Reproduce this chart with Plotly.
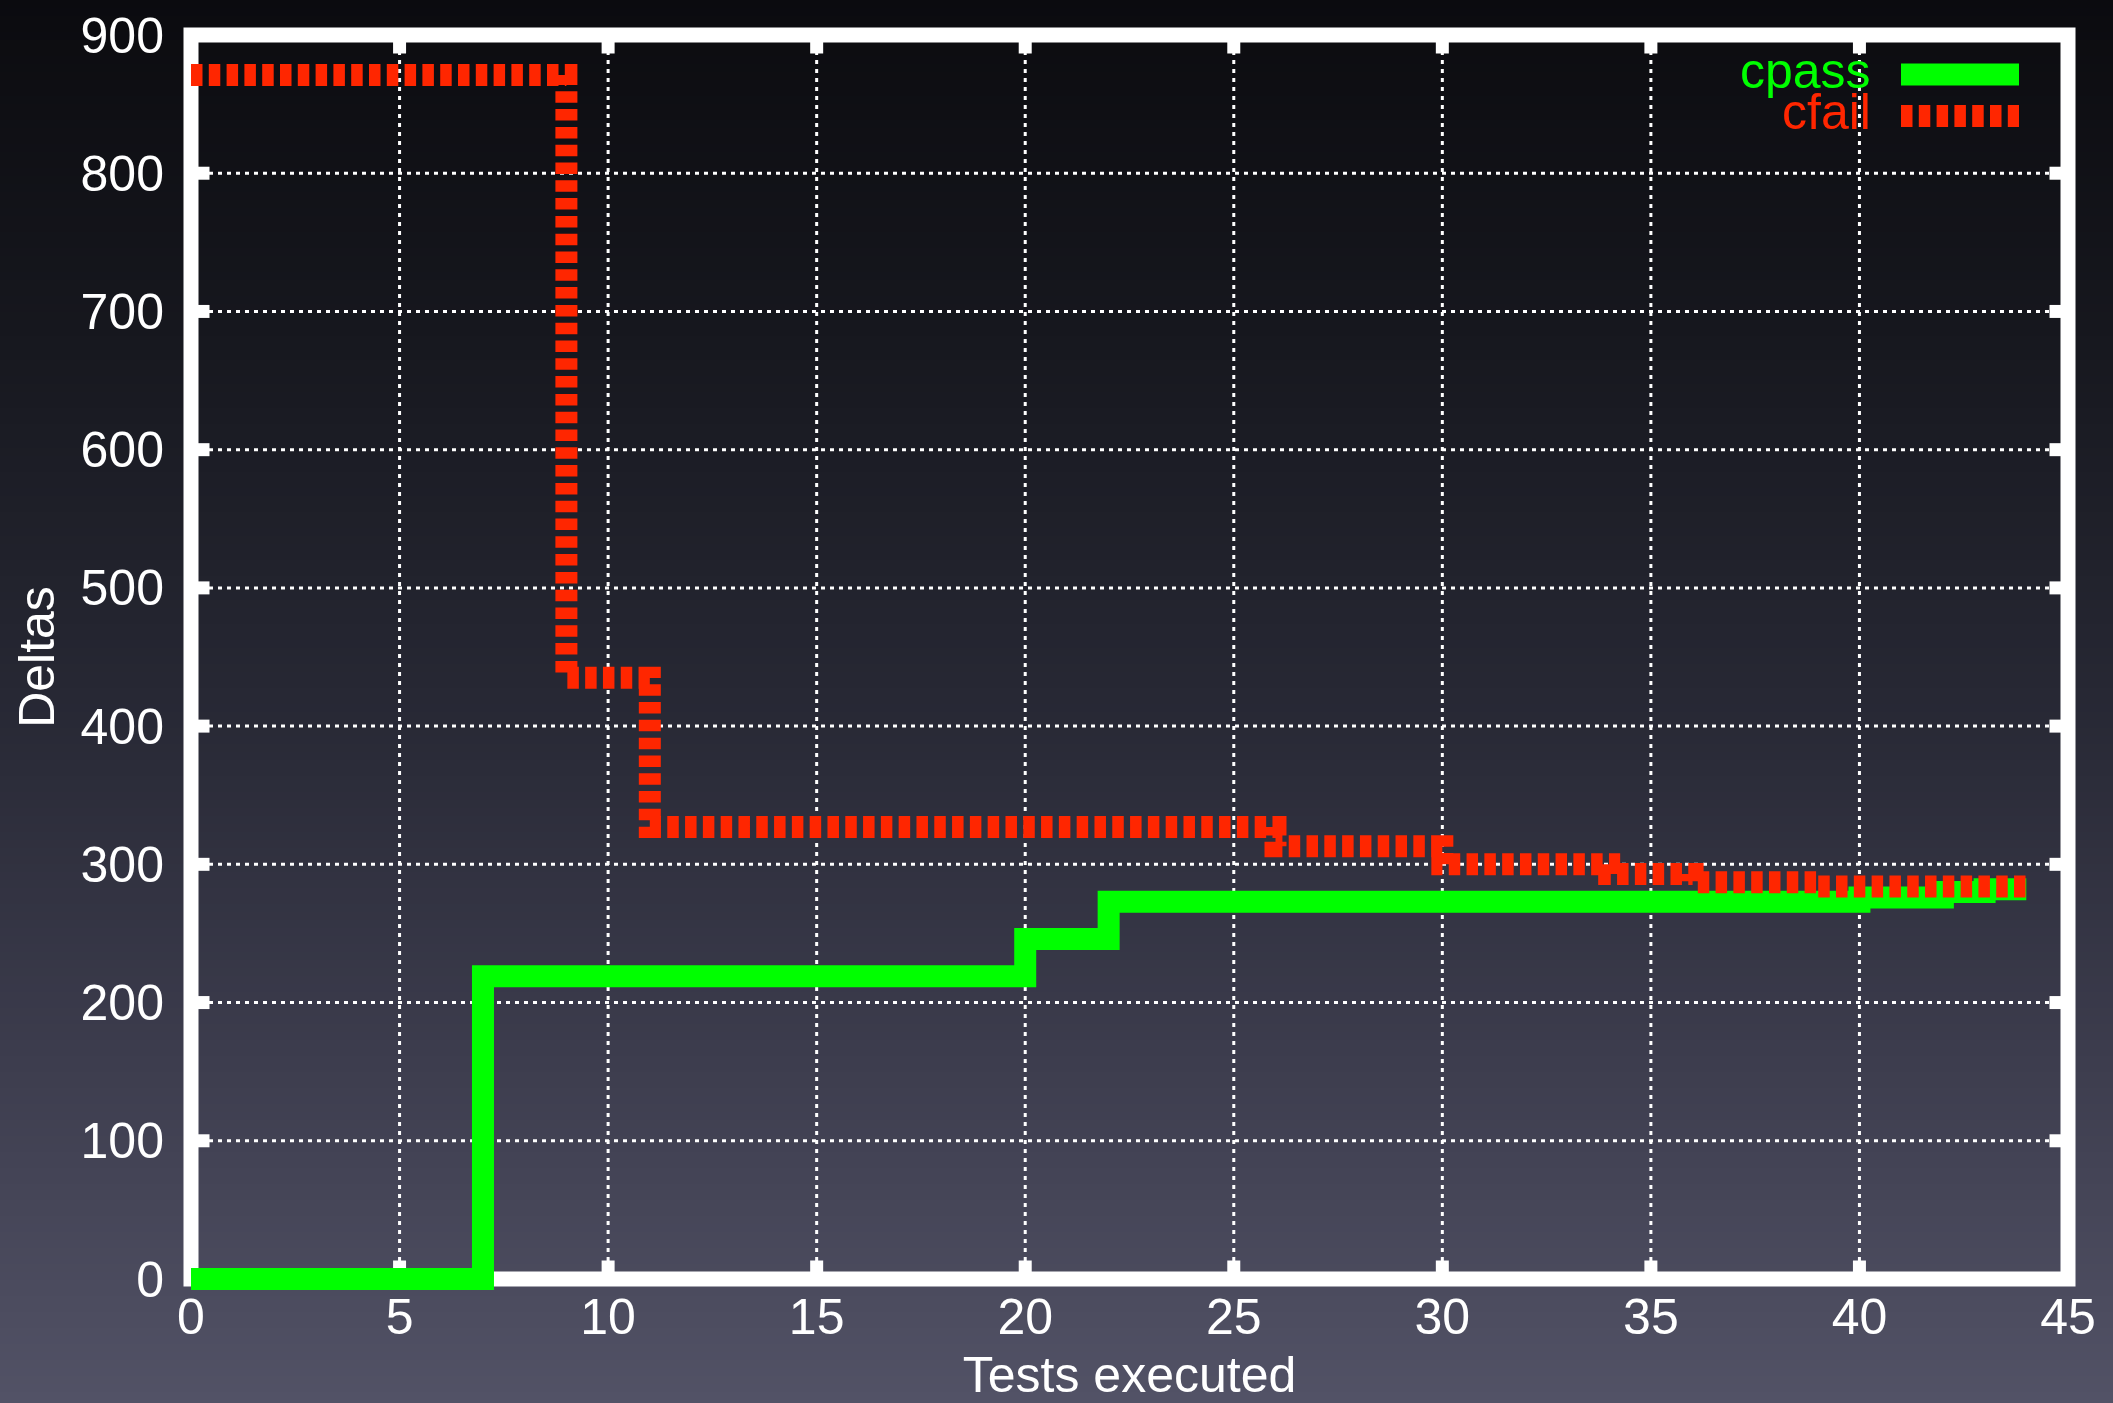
import plotly.graph_objects as go

# Step data: number of deltas remaining after each executed test
tests_pass = [0, 7, 20, 22, 40, 42, 43, 44]
cpass = [0, 219, 246, 273, 276, 280, 282, 282]

tests_fail = [0, 9, 11, 26, 30, 34, 36, 39, 44]
cfail = [871, 435, 327, 313, 300, 293, 287, 284, 284]

x_ticks = list(range(0, 46, 5))
y_ticks = list(range(0, 901, 100))

X_MAX, Y_MAX = 45, 900

W, H = 2113, 1403
# frame position (px) of the 0..45 x 0..900 box
FL, FR, FT, FB = 191, 2068, 35, 1279
PAD = 20  # extra room so the thick lines are not clipped at the frame
ML, MR, MT, MB = FL - PAD, W - FR - PAD, FT - PAD, H - FB - PAD
PW, PH = W - ML - MR, H - MT - MB
UX = X_MAX / (FR - FL)   # data units per px
UY = Y_MAX / (FB - FT)

GREEN = "#00ff00"
RED = "#ff2600"
FONT = "Liberation Sans, Arial, Helvetica, sans-serif"
DASH = "11.5px,6.3px"


def px_to_paper(px, py):
    return (px - ML) / PW, (H - MB - py) / PH


# vertical background gradient (dark top -> slate bottom)
stops = [(0, (11, 11, 15)), (350, (23, 24, 31)), (700, (39, 40, 52)),
         (1050, (60, 60, 77)), (1403, (82, 82, 102))]


def bg_color(py):
    for (y0, c0), (y1, c1) in zip(stops[:-1], stops[1:]):
        if y0 <= py <= y1:
            t = (py - y0) / (y1 - y0)
            return "rgb(%d,%d,%d)" % tuple(round(a + (b - a) * t) for a, b in zip(c0, c1))
    return "rgb(%d,%d,%d)" % stops[-1][1]


shapes = []
band = 8
for py in range(0, H, band):
    x0, y_top = px_to_paper(0, py)
    x1, y_bot = px_to_paper(W, py + band + 1)
    shapes.append(dict(type="rect", xref="paper", yref="paper", layer="below",
                       x0=x0, x1=x1, y0=y_bot, y1=y_top,
                       fillcolor=bg_color(py + band / 2), line=dict(width=0)))

# dotted grid
grid_line = dict(color="white", width=3, dash="4px,5px")
for xv in x_ticks[1:-1]:
    shapes.append(dict(type="line", xref="x", yref="y", layer="below",
                       x0=xv, x1=xv, y0=0, y1=Y_MAX, line=grid_line))
for yv in y_ticks[1:-1]:
    shapes.append(dict(type="line", xref="x", yref="y", layer="below",
                       x0=0, x1=X_MAX, y0=yv, y1=yv, line=grid_line))

# inward tick marks on all four sides
TICK_PX, TICK_W = 18.5, 13
tick_line = dict(color="white", width=TICK_W)
for xv in x_ticks[1:-1]:
    shapes.append(dict(type="line", xref="x", yref="y", layer="below",
                       x0=xv, x1=xv, y0=0, y1=TICK_PX * UY, line=tick_line))
    shapes.append(dict(type="line", xref="x", yref="y", layer="below",
                       x0=xv, x1=xv, y0=Y_MAX - TICK_PX * UY, y1=Y_MAX, line=tick_line))
for yv in y_ticks[1:-1]:
    shapes.append(dict(type="line", xref="x", yref="y", layer="below",
                       x0=0, x1=TICK_PX * UX, y0=yv, y1=yv, line=tick_line))
    shapes.append(dict(type="line", xref="x", yref="y", layer="below",
                       x0=X_MAX - TICK_PX * UX, x1=X_MAX, y0=yv, y1=yv, line=tick_line))

# thick white frame
shapes.append(dict(type="rect", xref="x", yref="y", layer="below",
                   x0=0, x1=X_MAX, y0=0, y1=Y_MAX,
                   line=dict(color="white", width=15)))

# key samples
lx0, _ = px_to_paper(1901, 0)
lx1, _ = px_to_paper(2019, 0)
_, ly_pass = px_to_paper(0, 74.5)
_, ly_fail = px_to_paper(0, 116)
shapes.append(dict(type="line", xref="paper", yref="paper", x0=lx0, x1=lx1,
                   y0=ly_pass, y1=ly_pass, line=dict(color=GREEN, width=22)))
shapes.append(dict(type="line", xref="paper", yref="paper", x0=lx0, x1=lx1,
                   y0=ly_fail, y1=ly_fail, line=dict(color=RED, width=22, dash=DASH)))

tx, _ = px_to_paper(1873, 0)
_, ty_pass = px_to_paper(0, 71)
_, ty_fail = px_to_paper(0, 112)
annotations = [
    dict(text="cpass", xref="paper", yref="paper", x=tx, y=ty_pass,
         xanchor="right", yanchor="middle", showarrow=False,
         font=dict(family=FONT, size=50, color=GREEN)),
    dict(text="cfail", xref="paper", yref="paper", x=tx, y=ty_fail,
         xanchor="right", yanchor="middle", showarrow=False,
         font=dict(family=FONT, size=50, color=RED)),
]

fig = go.Figure()
fig.add_trace(go.Scatter(x=tests_pass, y=cpass, mode="lines", name="cpass",
                         line=dict(shape="hv", color=GREEN, width=22),
                         cliponaxis=False, showlegend=False))
fig.add_trace(go.Scatter(x=tests_fail, y=cfail, mode="lines", name="cfail",
                         line=dict(shape="hv", color=RED, width=22, dash=DASH),
                         cliponaxis=False, showlegend=False))

axis_common = dict(
    ticks="", showline=False, zeroline=False, showgrid=False,
    tickfont=dict(family=FONT, size=50, color="white"),
)

fig.update_xaxes(range=[-PAD * UX, X_MAX + PAD * UX], tickmode="array",
                 tickvals=x_ticks, ticktext=[str(v) for v in x_ticks],
                 ticklabelstandoff=-16,
                 title=dict(text="Tests executed", standoff=12,
                            font=dict(family=FONT, size=50, color="white")),
                 **axis_common)
fig.update_yaxes(range=[-PAD * UY, Y_MAX + PAD * UY], tickmode="array",
                 tickvals=y_ticks, ticktext=[str(v) for v in y_ticks],
                 ticklabelstandoff=6,
                 title=dict(text="Deltas", standoff=10,
                            font=dict(family=FONT, size=50, color="white")),
                 **axis_common)

fig.update_layout(
    width=W, height=H,
    margin=dict(l=ML, r=MR, t=MT, b=MB, pad=0, autoexpand=False),
    paper_bgcolor="rgb(40,41,53)",
    plot_bgcolor="rgba(0,0,0,0)",
    shapes=shapes,
    annotations=annotations,
    showlegend=False,
)

fig.write_html("out.html")
